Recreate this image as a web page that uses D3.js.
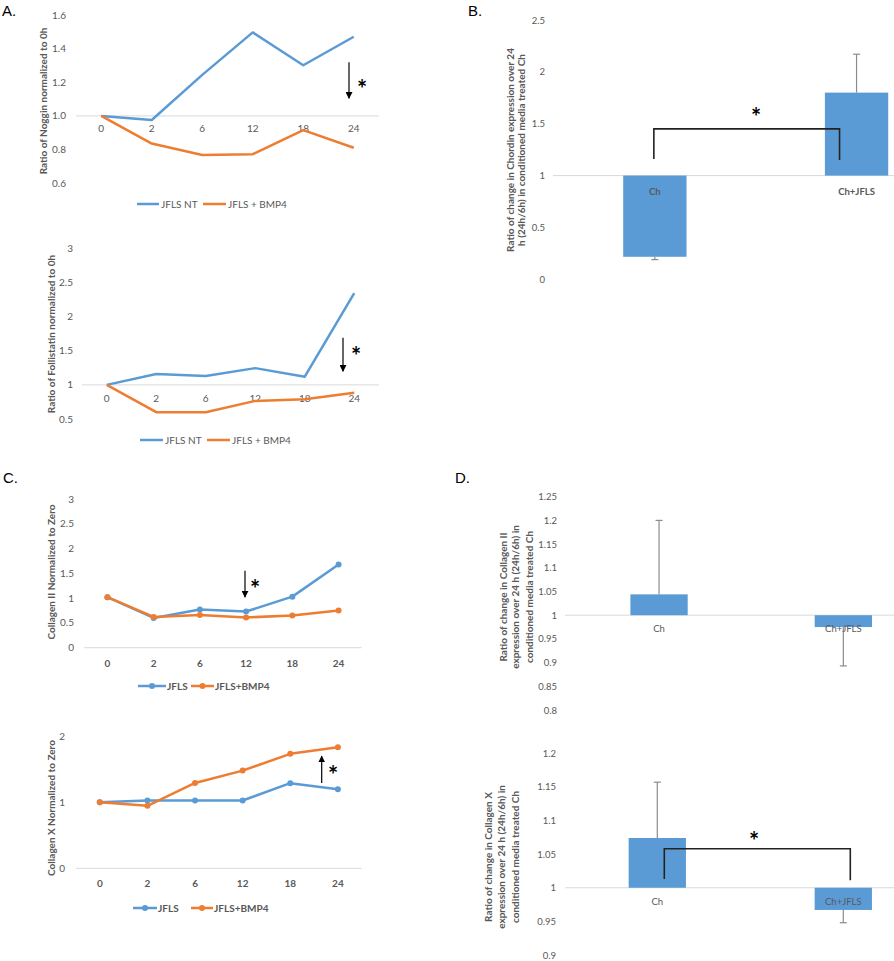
<!DOCTYPE html>
<html>
<head>
<meta charset="utf-8">
<script src="https://cdn.jsdelivr.net/npm/d3@7"></script>
<style>
  html, body { margin: 0; padding: 0; background: #fff; }
  svg { display: block; font-family: Lato, "Open Sans", "Liberation Sans", sans-serif; }
</style>
</head>
<body>
<svg id="fig" width="894" height="961"></svg>
<script>
// ---------------- DATA ----------------
const timepoints = ["0", "2", "6", "12", "18", "24"];

// Panel A (top): Noggin
const nogginNT   = [1.00, 0.976, 1.245, 1.498, 1.302, 1.472];
const nogginBMP4 = [1.00, 0.835, 0.767, 0.772, 0.915, 0.810];
const nogginTicks = [0.6, 0.8, 1.0, 1.2, 1.4, 1.6];

// Panel A (bottom): Follistatin
const follNT   = [1.00, 1.16, 1.13, 1.245, 1.12, 2.345];
const follBMP4 = [1.00, 0.60, 0.60, 0.765, 0.79, 0.885];
const follTicks = [0.5, 1, 1.5, 2, 2.5, 3];

// Panel C (top): Collagen II
const col2JFLS = [1.02, 0.60, 0.77, 0.73, 1.03, 1.68];
const col2BMP4 = [1.02, 0.62, 0.66, 0.61, 0.65, 0.75];
const col2Ticks = [0, 0.5, 1, 1.5, 2, 2.5, 3];

// Panel C (bottom): Collagen X
const col10JFLS = [1.00, 1.025, 1.025, 1.025, 1.287, 1.196];
const col10BMP4 = [1.00, 0.944, 1.29, 1.477, 1.73, 1.83];
const col10Ticks = [0, 1, 2];

// Bar panels
const barGroups = ["Ch", "Ch+JFLS"];
// Panel B: Chordin
const chordinMean = [0.217, 1.80];
const chordinErrEnd = [0.19, 2.17];
const chordinTicks = [0, 0.5, 1, 1.5, 2, 2.5];
// Panel D (top): Collagen II ratio
const col2RatioMean = [1.044, 0.975];
const col2RatioErrEnd = [1.20, 0.893];
const col2RatioTicks = [0.8, 0.85, 0.9, 0.95, 1, 1.05, 1.1, 1.15, 1.2, 1.25];
// Panel D (bottom): Collagen X ratio
const col10RatioMean = [1.074, 0.967];
const col10RatioErrEnd = [1.157, 0.948];
const col10RatioTicks = [0.9, 0.95, 1, 1.05, 1.1, 1.15, 1.2];

// ---------------- STYLE ----------------
const BLUE = "#5B9BD5", ORANGE = "#ED7D31", TXT = "#595959", GRID = "#D9D9D9";
const svg = d3.select("#fig");

svg.append("defs").append("marker")
  .attr("id", "ah").attr("viewBox", "0 0 10 10").attr("refX", 9).attr("refY", 5)
  .attr("markerWidth", 7).attr("markerHeight", 7).attr("markerUnits", "userSpaceOnUse")
  .attr("orient", "auto-start-reverse")
  .append("path").attr("d", "M0,0 L10,5 L0,10 z").attr("fill", "#000");

function panelLetter(t, x, y) {
  svg.append("text").attr("x", x).attr("y", y).attr("font-size", 15)
    .attr("font-family", "'Liberation Sans', Arial, sans-serif").attr("fill", "#000").text(t);
}

function yTitle(lines, xs, cy, size) {
  lines.forEach((l, i) => {
    svg.append("text").attr("transform", `translate(${xs[i]},${cy}) rotate(-90)`)
      .attr("text-anchor", "middle").attr("font-size", size || 10).attr("font-weight", "bold")
      .attr("fill", TXT).text(l);
  });
}

// star centred at (x, cy)
function star(x, cy) {
  svg.append("text").attr("x", x).attr("y", cy + 13).attr("text-anchor", "middle")
    .attr("font-size", 24).attr("font-weight", "bold").attr("fill", "#000").text("*");
}

function arrow(x, y1, y2) {
  svg.append("line").attr("x1", x).attr("x2", x).attr("y1", y1).attr("y2", y2)
    .attr("stroke", "#000").attr("stroke-width", 1.2).attr("marker-end", "url(#ah)");
}

// ---------------- LINE CHART ----------------
function lineChart(c) {
  const x = d3.scaleBand().domain(timepoints).range(c.xr);
  const y = d3.scaleLinear().domain(c.yd).range(c.yr);
  const g = svg.append("g");
  const fmt = c.fmt || (d => d3.format("~g")(d));
  g.selectAll(".yt").data(c.ticks).join("text")
    .attr("x", c.tickX).attr("y", d => y(d) + 3.5).attr("text-anchor", "end")
    .attr("font-size", 10).attr("fill", TXT).text(fmt);
  const yb = y(c.base);
  g.append("line").attr("x1", c.xr[0]).attr("x2", c.xr[1]).attr("y1", yb).attr("y2", yb)
    .attr("stroke", GRID).attr("stroke-width", 1);
  g.selectAll(".xt").data(timepoints).join("text")
    .attr("x", d => x(d) + x.bandwidth() / 2).attr("y", c.catY)
    .attr("text-anchor", "middle").attr("font-size", 10)
    .attr("font-weight", c.markers ? "bold" : "normal").attr("fill", TXT).text(d => d);
  const line = d3.line().x((d, i) => x(timepoints[i]) + x.bandwidth() / 2).y(d => y(d));
  c.series.forEach(s => {
    g.append("path").datum(s.values).attr("d", line).attr("fill", "none")
      .attr("stroke", s.color).attr("stroke-width", 2.5).attr("stroke-linejoin", "round");
    if (c.markers) {
      g.selectAll(null).data(s.values).join("circle")
        .attr("cx", (d, i) => x(timepoints[i]) + x.bandwidth() / 2).attr("cy", d => y(d))
        .attr("r", 3).attr("fill", s.color);
    }
  });
  c.legend.forEach(l => {
    g.append("line").attr("x1", l.x1).attr("x2", l.x2).attr("y1", c.legY).attr("y2", c.legY)
      .attr("stroke", l.color).attr("stroke-width", 2.5);
    if (c.markers) g.append("circle").attr("cx", (l.x1 + l.x2) / 2).attr("cy", c.legY).attr("r", 3).attr("fill", l.color);
    g.append("text").attr("x", l.tx).attr("y", c.legY + 3.5).attr("font-size", 10)
      .attr("font-weight", c.markers ? "bold" : "normal").attr("fill", TXT).text(l.text);
  });
  return { x, y };
}

// ---------------- BAR CHART ----------------
function barChart(c) {
  const x = d3.scaleBand().domain(barGroups).range(c.xr);
  const y = d3.scaleLinear().domain(c.yd).range(c.yr);
  const g = svg.append("g");
  const fmt = d => d3.format("~g")(d);
  g.selectAll(".yt").data(c.ticks).join("text")
    .attr("x", c.tickX).attr("y", d => y(d) + 3.5).attr("text-anchor", "end")
    .attr("font-size", 9.5).attr("fill", TXT).text(fmt);
  const yb = y(1);
  g.append("line").attr("x1", c.gridX0).attr("x2", 894).attr("y1", yb).attr("y2", yb)
    .attr("stroke", GRID).attr("stroke-width", 1);
  const bw = x.step() * c.barFrac;
  const cx = d => x(d) + x.bandwidth() / 2;
  barGroups.forEach((gname, i) => {
    const xc = cx(gname);
    g.append("line").attr("x1", xc).attr("x2", xc).attr("y1", y(c.mean[i])).attr("y2", y(c.err[i]))
      .attr("stroke", "#8C8C8C").attr("stroke-width", 1.2);
    g.append("line").attr("x1", xc - 3.5).attr("x2", xc + 3.5).attr("y1", y(c.err[i])).attr("y2", y(c.err[i]))
      .attr("stroke", "#8C8C8C").attr("stroke-width", 1.2);
  });
  g.selectAll("rect").data(barGroups).join("rect")
    .attr("x", d => cx(d) - bw / 2).attr("width", bw)
    .attr("y", (d, i) => Math.min(y(c.mean[i]), yb))
    .attr("height", (d, i) => Math.abs(y(c.mean[i]) - yb))
    .attr("fill", BLUE);
  g.selectAll(".cat").data(barGroups).join("text")
    .attr("x", d => cx(d)).attr("y", c.catY).attr("text-anchor", "middle")
    .attr("font-size", 9.5).attr("font-weight", c.catBold ? "bold" : "normal").attr("fill", TXT).text(d => d);
  return { x, y, cx };
}

function bracket(x1, x2, yTop, yL, yR) {
  svg.append("path").attr("d", `M${x1},${yL} L${x1},${yTop} L${x2},${yTop} L${x2},${yR}`)
    .attr("fill", "none").attr("stroke", "#222").attr("stroke-width", 1.6);
}

// ---------------- PANEL A ----------------
panelLetter("A.", 2, 16);
const aTop = lineChart({
  xr: [76, 379], yd: [0.6, 1.6], yr: [183, 15.3], base: 1.0, ticks: nogginTicks,
  fmt: d3.format(".1f"), tickX: 66, catY: 131.5, markers: false,
  series: [{ values: nogginNT, color: BLUE }, { values: nogginBMP4, color: ORANGE }],
  legY: 204, legend: [
    { x1: 137, x2: 159, tx: 161, text: "JFLS NT", color: BLUE },
    { x1: 203, x2: 226, tx: 228, text: "JFLS + BMP4", color: ORANGE }]
});
yTitle(["Ratio of Noggin normalized to 0h"], [47], 101);
arrow(349, aTop.y(1.32), aTop.y(1.105));
star(362, 85);

const aBot = lineChart({
  xr: [82, 379], yd: [0.5, 3], yr: [419, 248.3], base: 1, ticks: follTicks,
  tickX: 73, catY: 401.5, markers: false,
  series: [{ values: follNT, color: BLUE }, { values: follBMP4, color: ORANGE }],
  legY: 440, legend: [
    { x1: 140, x2: 163, tx: 165, text: "JFLS NT", color: BLUE },
    { x1: 207, x2: 230, tx: 232, text: "JFLS + BMP4", color: ORANGE }]
});
yTitle(["Ratio of Follistatin normalized to 0h"], [55], 334);
arrow(343, aBot.y(1.69), aBot.y(1.2));
star(356, 352);

// ---------------- PANEL B ----------------
panelLetter("B.", 468, 16);
const b = barChart({
  xr: [554, 957.4], yd: [0, 2.5], yr: [279.3, 20], ticks: chordinTicks, tickX: 545,
  gridX0: 553, barFrac: 0.314, mean: chordinMean, err: chordinErrEnd, catY: 195, catBold: true
});
bracket(b.cx("Ch") - 1, b.cx("Ch+JFLS") - 17, b.y(1.45), b.y(1.16), b.y(1.15));
star(756, 113);
yTitle(["Ratio of change in Chordin expression over 24", "h (24h/6h) in conditioned  media treated Ch"],
  [513.5, 525], 150);

// ---------------- PANEL C ----------------
panelLetter("C.", 3, 483);
const cTop = lineChart({
  xr: [84.3, 361.7], yd: [0, 3], yr: [647.7, 499], base: 0, ticks: col2Ticks,
  tickX: 74, catY: 667, markers: true,
  series: [{ values: col2JFLS, color: BLUE }, { values: col2BMP4, color: ORANGE }],
  legY: 686, legend: [
    { x1: 138, x2: 166, tx: 167, text: "JFLS", color: BLUE },
    { x1: 191, x2: 214, tx: 215, text: "JFLS+BMP4", color: ORANGE }]
});
yTitle(["Collagen  II Normalized to Zero"], [55], 572);
arrow(245, cTop.y(1.55), cTop.y(1.02));
star(255, 585);

const cBot = lineChart({
  xr: [76, 361.7], yd: [0, 2], yr: [868.3, 736], base: 0, ticks: col10Ticks,
  tickX: 65, catY: 887, markers: true,
  series: [{ values: col10JFLS, color: BLUE }, { values: col10BMP4, color: ORANGE }],
  legY: 908, legend: [
    { x1: 133, x2: 157, tx: 158, text: "JFLS", color: BLUE },
    { x1: 191, x2: 213, tx: 214, text: "JFLS+BMP4", color: ORANGE }]
});
yTitle(["Collagen  X Normalized to Zero"], [55], 808);
arrow(321.7, cBot.y(1.29), cBot.y(1.695));
star(333, 771);

// ---------------- PANEL D ----------------
panelLetter("D.", 455, 483);
const dTop = barChart({
  xr: [566.9, 935.5], yd: [0.8, 1.25], yr: [710, 496.7], ticks: col2RatioTicks, tickX: 557,
  gridX0: 565, barFrac: 0.311, mean: col2RatioMean, err: col2RatioErrEnd, catY: 632, catBold: false
});
yTitle(["Ratio of change in Collagen II", "expression over 24 h (24h/6h) in", "conditioned media treated Ch"],
  [506.5, 519, 532.5], 597);

const dBot = barChart({
  xr: [564.3, 936.3], yd: [0.9, 1.2], yr: [955, 753.3], ticks: col10RatioTicks, tickX: 556,
  gridX0: 565, barFrac: 0.308, mean: col10RatioMean, err: col10RatioErrEnd, catY: 905, catBold: false
});
bracket(dBot.cx("Ch") + 7, dBot.cx("Ch+JFLS") + 7, dBot.y(1.058), dBot.y(1.013), dBot.y(1.011));
star(754, 837);
yTitle(["Ratio of change in Collagen X", "expression over 24 h (24h/6h) in", "conditioned media treated Ch"],
  [491.5, 505, 518.5], 857);
</script>
</body>
</html>
